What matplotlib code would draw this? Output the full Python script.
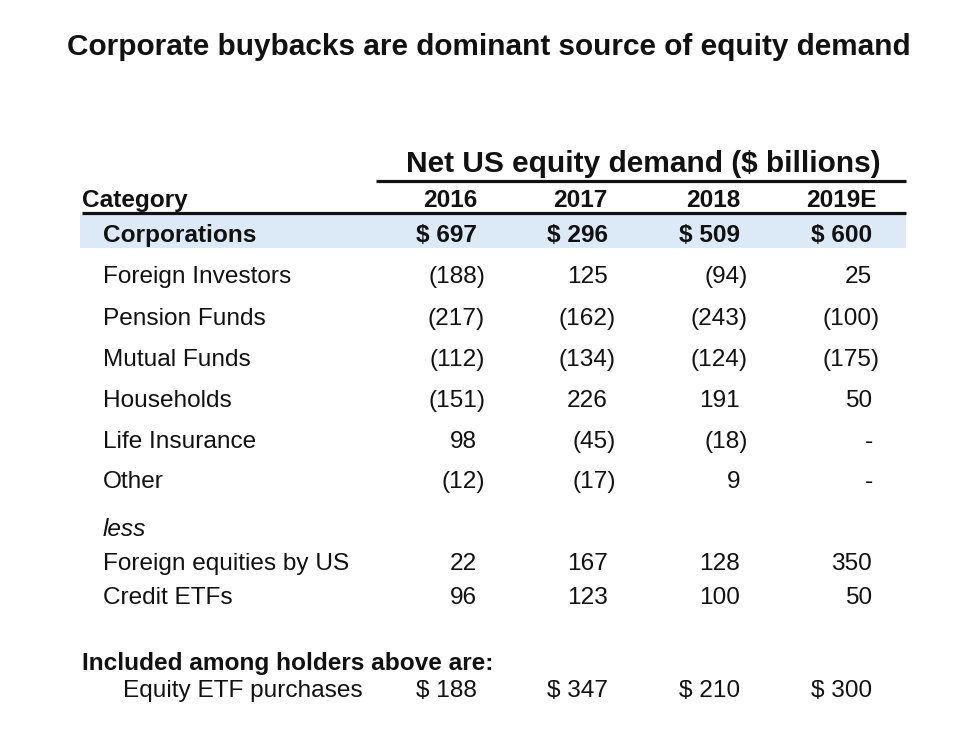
import matplotlib.pyplot as plt
from matplotlib.patches import Rectangle

# ---------------------------------------------------------
# Data
# ---------------------------------------------------------
title = "Corporate buybacks are dominant source of equity demand"
header = "Net US equity demand ($ billions)"
years = ["2016", "2017", "2018", "2019E"]

corporations = [697, 296, 509, 600]
foreign_investors = [-188, 125, -94, 25]
pension_funds = [-217, -162, -243, -100]
mutual_funds = [-112, -134, -124, -175]
households = [-151, 226, 191, 50]
life_insurance = [98, -45, -18, None]
other = [-12, -17, 9, None]
foreign_equities_by_us = [22, 167, 128, 350]
credit_etfs = [96, 123, 100, 50]
equity_etf_purchases = [188, 347, 210, 300]

holder_labels = ["Foreign Investors", "Pension Funds", "Mutual Funds",
                 "Households", "Life Insurance", "Other"]
holder_values = [foreign_investors, pension_funds, mutual_funds,
                 households, life_insurance, other]
less_labels = ["Foreign equities by US", "Credit ETFs"]
less_values = [foreign_equities_by_us, credit_etfs]

# ---------------------------------------------------------
# Layout (pixel space, y grows downward)
# ---------------------------------------------------------
W, H = 960, 742
col_x = [477, 608, 740, 872]
paren = 8          # width of ")" hanging past the column edge
ink = "#111111"
band = "#dce9f7"
FONT = "Liberation Sans"
fs = 17.6

fig = plt.figure(figsize=(9.6, 7.42), dpi=100)
ax = fig.add_axes([0, 0, 1, 1])
ax.set_xlim(0, W)
ax.set_ylim(H, 0)
ax.axis("off")


def txt(x, y, s, ha="left", weight="normal", style="normal", size=fs):
    ax.text(x, y, s, ha=ha, va="baseline", fontsize=size, fontweight=weight,
            fontstyle=style, family=FONT, color=ink)


def fmt_row(vals, y, dollar=False, weight="normal"):
    for x, v in zip(col_x, vals):
        if v is None:
            ax.text(x - 3, y, "-", ha="center", va="baseline", fontsize=fs,
                    family=FONT, color=ink)
        elif v < 0:
            txt(x + paren, y, f"({abs(v)})", ha="right", weight=weight)
        else:
            txt(x, y, f"$ {v}" if dollar else f"{v}", ha="right", weight=weight)


# title
txt(489, 55, title, ha="center", weight="bold", size=21.4)

# header block
txt(643, 172, header, ha="center", weight="bold", size=21.5)
ax.plot([376, 906], [180.5, 180.5], color=ink, lw=2.3, solid_capstyle="butt")
txt(82, 207, "Category", weight="bold")
for i, yr in enumerate(years):
    txt(col_x[i] + (5 if yr.endswith("E") else 0), 207, yr, ha="right", weight="bold")
ax.plot([82, 906], [213, 213], color=ink, lw=2.3, solid_capstyle="butt")

# corporations highlight
ax.add_patch(Rectangle((80, 215), 826, 33, facecolor=band, edgecolor="none", zorder=0))
txt(103, 242, "Corporations", weight="bold")
fmt_row(corporations, 242, dollar=True, weight="bold")

# other holders
row_y = [283, 325, 366, 407, 448, 488]
for lab, vals, y in zip(holder_labels, holder_values, row_y):
    txt(103, y, lab)
    fmt_row(vals, y)

txt(103, 536, "less", style="italic")
for lab, vals, y in zip(less_labels, less_values, [570, 604]):
    txt(103, y, lab)
    fmt_row(vals, y)

txt(82, 670, "Included among holders above are:", weight="bold")
txt(123, 697, "Equity ETF purchases")
fmt_row(equity_etf_purchases, 697, dollar=True)

fig.savefig("out.png", dpi=100, facecolor="white")
